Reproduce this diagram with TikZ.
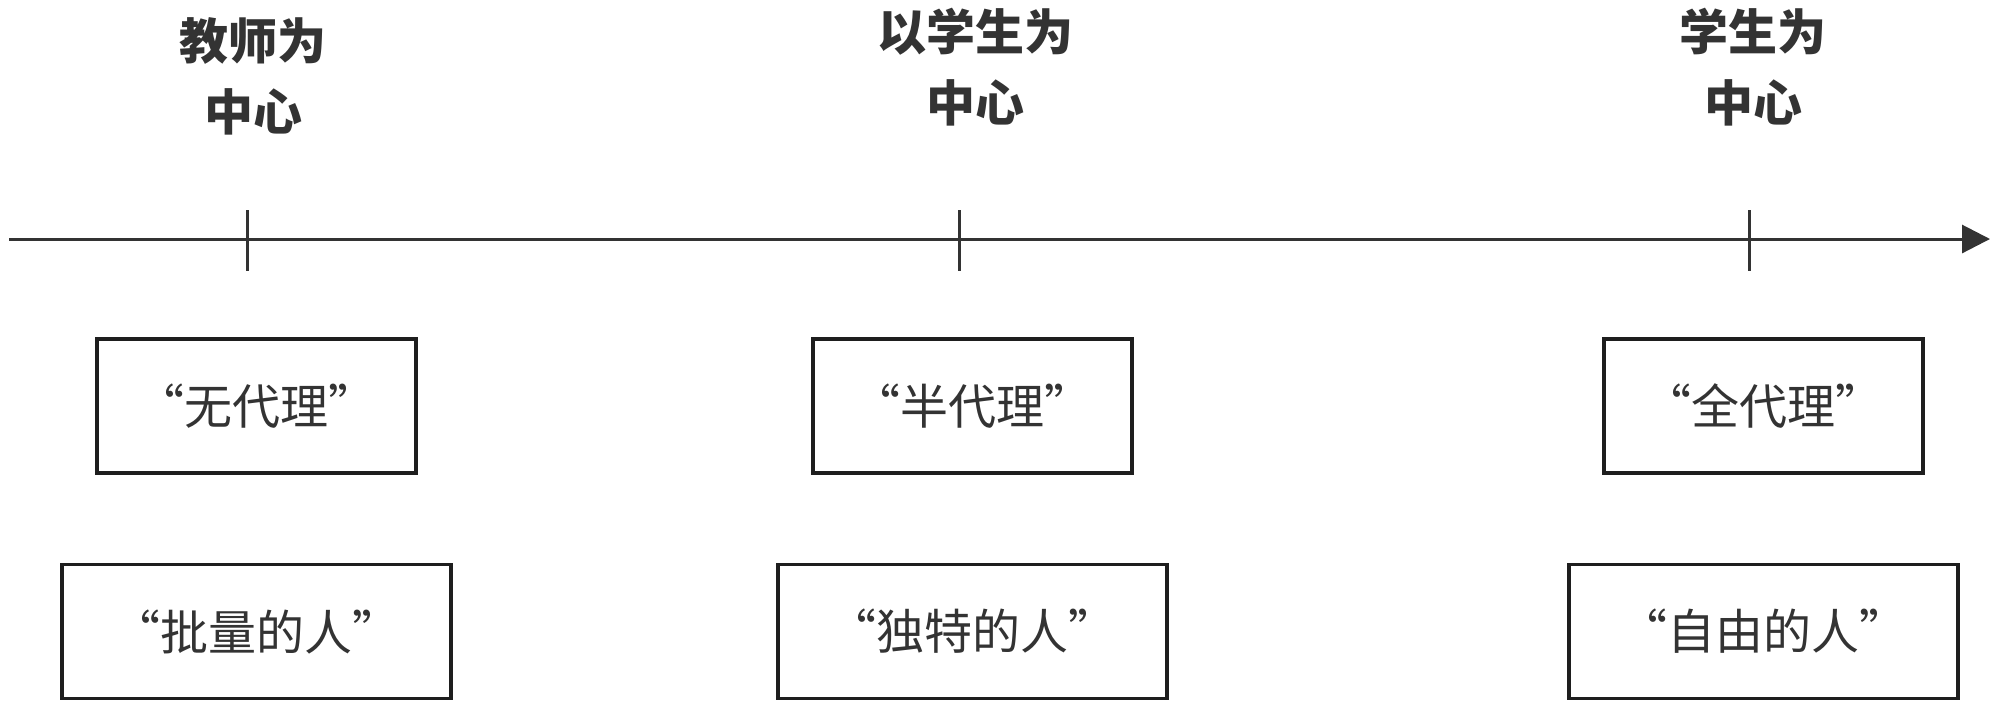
\documentclass[tikz,border=0pt]{standalone}
\usepackage{fontspec}
\setmainfont{Noto Sans CJK SC}
\usetikzlibrary{arrows.meta}
\definecolor{ink}{HTML}{333333}
\definecolor{boxline}{HTML}{1E1E1E}
\tikzset{
  header/.style={font=\bfseries\fontsize{24.5pt}{35.5pt}\selectfont, text=ink, align=center, inner sep=0pt},
  label box/.style={draw=boxline, line width=1.9pt, text=ink, font=\fontsize{24pt}{28pt}\selectfont, minimum height=67pt, inner sep=0pt},
  small box/.style={label box, minimum width=159.5pt},
  wide box/.style={label box, minimum width=194.5pt},
  axis/.style={draw=ink, line width=1.5pt},
}
\begin{document}
\begin{tikzpicture}[x=0.5pt,y=-0.5pt]
\useasboundingbox (0,0) rectangle (2000,709);
% axis
\coordinate (start) at (9,239);
\coordinate (end) at (1990,239);
\draw[axis, -{Triangle[length=14pt,width=14pt]}] (start) -- (end);
% ticks
\coordinate (t1a) at (247,210); \coordinate (t1b) at (247,271);
\coordinate (t2a) at (959,210); \coordinate (t2b) at (959,271);
\coordinate (t3a) at (1749,210); \coordinate (t3b) at (1749,271);
\draw[axis] (t1a) -- (t1b);
\draw[axis] (t2a) -- (t2b);
\draw[axis] (t3a) -- (t3b);
% headers
\node[header] (h1) at (253,76) {教师为\\中心};
\node[header] (h2) at (975,67) {以学生为\\中心};
\node[header] (h3) at (1753,67) {学生为\\中心};
% row 1
\node[small box] (a1) at (256.5,406) {“无代理”};
\node[small box] (a2) at (972.5,406) {“半代理”};
\node[small box] (a3) at (1763.5,406) {“全代理”};
% row 2
\node[wide box] (b1) at (256.5,631.5) {“批量的人”};
\node[wide box] (b2) at (972.5,631.5) {“独特的人”};
\node[wide box] (b3) at (1763.5,631.5) {“自由的人”};
\end{tikzpicture}
\end{document}
